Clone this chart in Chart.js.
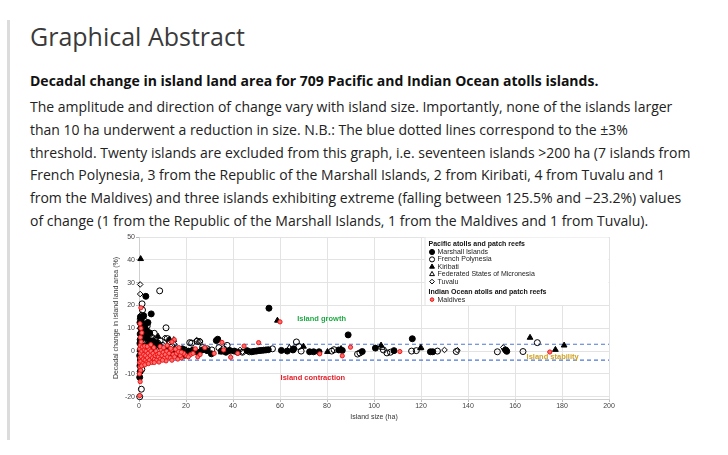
<!DOCTYPE html>
<html>
<head>
<meta charset="utf-8">
<script src="https://cdn.jsdelivr.net/npm/chart.js@4.4.1/dist/chart.umd.min.js"></script>
<style>
  body { margin: 0; background: #fff; font-family: "Open Sans", sans-serif; width: 728px; height: 455px; overflow: hidden; position: relative; }
  #bar { position: absolute; left: 7px; top: 20px; width: 3px; height: 420px; background: #dcdcdc; }
  h2 { position: absolute; left: 30px; top: 19px; margin: 0; font-size: 25px; line-height: 34px; font-weight: 400; color: #3a3a3a; white-space: nowrap; }
  #caption { position: absolute; left: 30px; top: 69px; margin: 0; font-size: 14px; line-height: 23px; font-weight: 700; color: #111; white-space: nowrap; }
  #para { position: absolute; left: 30px; top: 96px; margin: 0; font-size: 14px; line-height: 22.8px; color: #222; white-space: nowrap; }
  #wrap { position: absolute; left: 100px; top: 230px; width: 520px; height: 195px; }
</style>
</head>
<body>
<div id="bar"></div>
<h2>Graphical Abstract</h2>
<p id="caption">Decadal change in island land area for 709 Pacific and Indian Ocean atolls islands.</p>
<p id="para">The amplitude and direction of change vary with island size. Importantly, none of the islands larger<br>than 10 ha underwent a reduction in size. N.B.: The blue dotted lines correspond to the ±3%<br>threshold. Twenty islands are excluded from this graph, i.e. seventeen islands &gt;200 ha (7 islands from<br>French Polynesia, 3 from the Republic of the Marshall Islands, 2 from Kiribati, 4 from Tuvalu and 1<br>from the Maldives) and three islands exhibiting extreme (falling between 125.5% and −23.2%) values<br>of change (1 from the Republic of the Marshall Islands, 1 from the Maldives and 1 from Tuvalu).</p>
<div id="wrap"><canvas id="my-chart" width="520" height="195"></canvas></div>
<script>
'use strict';

// DATA  [island size (ha), decadal change (%)]
let marshall = [
  [0.3,-11.5],[0.5,-9],[0.4,-6.5],[0.6,-4],[0.3,-2],[0.8,-1],[0.5,0.5],[1.0,2],[0.4,3.5],[0.7,5],
  [1.2,6],[0.5,7.5],[1.5,8.5],[0.8,10],[1.3,11],[0.4,12.5],[1.8,12],[1.0,14],[2.0,15.5],[0.6,15],
  [2.9,24],[5.2,16.3],[3.8,12.5],[2.5,10.5],[3.2,9],[4.5,8],[2.2,7],[3.5,5.5],[5.0,4.5],[6.5,4],
  [4.2,3],[7.5,3.5],[8.5,2.5],[9.5,1.5],[6,1],[11,0.5],[12.5,1],[14,0.3],[15.5,-0.5],[17,0.5],
  [19.5,-1.8],[21,0],[23,0.5],[25,-0.5],[27,0.5],[29,0.2],[30.8,-1.2],[32.9,4.6],[33.5,5.2],[35,0],
  [37,-0.5],[38.5,0.3],[40.6,0],[42,-0.5],[46,0.2],[48,-0.3],[49,-0.1],[50,0],[51,0.2],[52,0.3],
  [53,0.4],[54,0.5],[55,0.6],[55.3,18.8],[60.6,0.3],[63.1,0],[65.5,0.5],[65.8,1],[72.6,-0.3],[74.3,-0.3],
  [76.6,-0.3],[85,0.5],[86.5,0.3],[89,7.1],[95,-0.2],[100.6,1.3],[108.5,0.2],[116.3,5.4],[124,-0.3],[125,-0.3],
  [156,0.5],[156.5,-0.1],[7,-1],[10,-2],[13,-1.5],[16.5,-2],[18.5,1]
];
let frenchPolynesia = [
  [1.3,20.7],[8.8,26.4],[11.5,10.2],[1,-16.7],[0.3,-20],[1.5,18],[2.5,13],[3.5,11],[4.5,7.5],[5.5,6],
  [6.5,7.8],[7,5],[8,3.5],[9,4.5],[10,2.5],[12,5.5],[13,4],[14,2],[16,1],[18,0.5],
  [21.6,3.7],[22.4,3.5],[24.8,4.3],[25.8,4.1],[27,1.5],[29,1],[31,0.5],[34,1.5],[36,1],[37.5,2.5],
  [39,0],[44,-0.5],[47,-0.3],[56.8,1],[67,4],[68,2],[69,0],[82,0],[83,0.6],[93,-1.3],
  [94,-0.8],[104,0.5],[105.5,-0.8],[107,-0.5],[116,0],[118,0.2],[127,0],[135,-0.2],[152.5,-0.3],[163.4,-0.2],
  [169.5,3.7],[0.5,5],[1.5,3],[2,1],[0.8,-3],[1.2,-8],[2.5,-2]
];
let kiribati = [
  [0.7,40.4],[58.9,13.4],[103,2.5],[119.8,1.3],[166.4,5.9],[177.2,0.6],[180.9,2.5],[70,2],[80.2,-0.3],[86,1],
  [1,8],[3,6],[6,4.5],[8.1,6.4],[13,5.2],[0.5,-5],[2.2,2],[14.8,4.9]
];
let micronesia = [
  [2,4],[5,2],[10,1],[20,0.5],[28,1],[35,-0.5],[64,1.5],[103.5,1.5],[120,1.5],[0.8,1]
];
let tuvalu = [
  [0.5,29.2],[0.5,25],[1,16],[0.3,14],[1.5,12],[0.5,10],[2,9],[1,6],[0.3,3],[1.8,1],
  [0.6,-2],[0.4,-6],[3,7],[4,5],[5,3],[7,2],[11,5.8],[12.5,4.5],[15,3],[24.5,4.8],
  [26,4.4],[43,0.5],[44,-0.3],[130,0.5],[135.5,0.4],[155,1.6],[155.5,0.6]
];
let maldives = [
  [0.8,19],[0.5,-13.4],[0.3,-19.5],[60,12.8],[35.3,3.8],[44.7,2.2],[50.9,3.7],[39,-2.7],[76.9,-1.2],[86.5,-2.1],
  [90,1.7],[111,-0.2],[174.8,-0.4],[15,5],[14,4],[20,-2],[22,-1.5],[18,-3],[25,-2.5],[28,1.5],
  [32,-1],[36,0.5],[42,-1],
  [0.2,-5],[0.4,-3],[0.6,-1],[0.3,1],[0.5,2.5],[0.8,-4.5],[1,-2.5],[1.2,0],[1.4,1.8],[0.9,4],
  [1.6,-5.5],[1.8,-3.5],[2,-1.5],[2.2,0.5],[2.4,2.2],[2.6,-4],[2.8,-2],[3,0],[0.4,-7],[0.7,-8.5],
  [1.1,-6.5],[0.2,-10],[0.6,6],[1.2,8],[0.8,10],[0.4,12],
  [3.3,-5],[3.6,-3],[3.9,-1],[4.2,1],[4.5,-4],[4.8,-2],[5.1,0],[5.4,-5],[5.7,-3],[6,-1],
  [6.3,1.5],[6.6,-3.5],[6.9,-2],[7.2,0],[7.5,-4],[7.8,-1.5],[3.5,2],[5,2.8],[2.5,-6],[4,-5.5],
  [8.2,-2.5],[8.6,-1],[9,-3.5],[9.4,0.5],[9.8,-2],[10.3,-0.5],[10.8,-3],[11.2,-1.5],[11.8,0],[12.2,-2.5],
  [12.8,-1],[13.3,-3],[13.8,0.5],[14.5,-1.5],[15.2,-2.5],[16,-1],[16.8,-0.2],[17.5,-2],[19,-1],[21,-2.5],
  [23,-1],[24,1],[26,-1.5],
  [9,2],[10.5,1.5],[12,2.5],[13.5,1.2],[15.5,0.8],[17,1.5],[18,-0.5],[16.5,-3.5],[14,-4],[11.5,-4.3],
  [8.5,-4.8],[6.5,-5],[10,-4]
];

// THRESHOLD LINES (%)
let thresholds = [3, -4];

// AXES
let xTicks = [0, 20, 40, 60, 80, 100, 120, 140, 160, 180, 200];
let yTicks = [-20, -10, 0, 10, 20, 30, 40, 50];

// ANNOTATIONS [text, x, y, colour]
let notes = [
  ['Island growth', 77.7, 14.1, '#1faa45'],
  ['Island contraction', 74, -11.7, '#e5202a'],
  ['Island stability', 176, -2.7, '#d2a11e']
];

// LEGEND GROUPS
let legendGroups = [
  { title: 'Pacific atolls and patch reefs', items: ['Marshall Islands', 'French Polynesia', 'Kiribati', 'Federated States of Micronesia', 'Tuvalu'] },
  { title: 'Indian Ocean atolls and patch reefs', items: ['Maldives'] }
];

let FONT = '"Liberation Sans", Arial, sans-serif';
let GRID = '#e3e3e3';

function toPoints(arr) {
  return arr.map(p => ({ x: p[0], y: p[1] }));
}

let styles = {
  'Marshall Islands': { pointStyle: 'circle', radius: 3, bg: '#000', border: '#000', bw: 1 },
  'French Polynesia': { pointStyle: 'circle', radius: 3, bg: 'rgba(0,0,0,0)', border: '#000', bw: 1 },
  'Kiribati': { pointStyle: 'triangle', radius: 3.3, bg: '#000', border: '#000', bw: 1 },
  'Federated States of Micronesia': { pointStyle: 'triangle', radius: 3.3, bg: 'rgba(0,0,0,0)', border: '#000', bw: 1 },
  'Tuvalu': { pointStyle: 'rectRot', radius: 2.8, bg: 'rgba(0,0,0,0)', border: '#000', bw: 1 },
  'Maldives': { pointStyle: 'circle', radius: 2.1, bg: '#ff7070', border: '#ee1515', bw: 1 }
};

function pointSet(label, arr, order) {
  let s = styles[label];
  return {
    label: label,
    data: toPoints(arr),
    pointStyle: s.pointStyle,
    pointRadius: s.radius,
    backgroundColor: s.bg,
    borderColor: s.border,
    borderWidth: s.bw,
    clip: 6,
    order: order
  };
}

function lineSet(level) {
  return {
    label: 'threshold ' + level,
    data: [{ x: 0, y: level }, { x: 200, y: level }],
    showLine: true,
    pointRadius: 0,
    borderColor: '#4c78d6',
    borderWidth: 1.2,
    borderDash: [4, 3],
    order: 10
  };
}

// PLUGIN: annotations + grouped legend
let extras = {
  id: 'extras',
  afterDatasetsDraw(chart) {
    let c = chart.ctx;
    let xs = chart.scales.x;
    let ys = chart.scales.y;
    let area = chart.chartArea;

    c.save();
    c.font = 'bold 7.5px ' + FONT;
    c.textAlign = 'center';
    c.textBaseline = 'middle';
    notes.forEach(n => {
      c.fillStyle = n[3];
      c.fillText(n[0], xs.getPixelForValue(n[1]), ys.getPixelForValue(n[2]));
    });

    // legend box
    let left = xs.getPixelForValue(121.5);
    let top = area.top;
    let bottom = ys.getPixelForValue(20);
    c.fillStyle = '#fff';
    c.fillRect(left, top + 0.5, area.right - left - 0.5, bottom - top - 1);
    c.strokeStyle = GRID;
    c.lineWidth = 1;
    c.beginPath();
    c.moveTo(left + 0.5, top);
    c.lineTo(left + 0.5, bottom);
    c.stroke();

    c.textAlign = 'left';
    let y = top + 7;
    legendGroups.forEach(g => {
      c.fillStyle = '#111';
      c.font = 'bold 7px ' + FONT;
      c.fillText(g.title, left + 4, y);
      y += 8;
      g.items.forEach(name => {
        let s = styles[name];
        c.fillStyle = s.bg;
        c.strokeStyle = s.border;
        c.lineWidth = s.bw;
        Chart.helpers.drawPoint(c, {
          pointStyle: s.pointStyle,
          radius: s.radius * 0.85,
          borderWidth: s.bw
        }, left + 7.5, y);
        c.fillStyle = '#222';
        c.font = '7px ' + FONT;
        c.fillText(name, left + 13, y);
        y += 7.4;
      });
      y += 2.6;
    });
    c.restore();
  }
};

let ctx = document.getElementById('my-chart');

new Chart(ctx, {
  type: 'scatter',
  data: {
    datasets: [
      lineSet(thresholds[0]),
      lineSet(thresholds[1]),
      pointSet('Marshall Islands', marshall, 3),
      pointSet('French Polynesia', frenchPolynesia, 4),
      pointSet('Kiribati', kiribati, 2),
      pointSet('Federated States of Micronesia', micronesia, 5),
      pointSet('Tuvalu', tuvalu, 6),
      pointSet('Maldives', maldives, 1)
    ]
  },
  options: {
    responsive: false,
    animation: false,
    events: [],
    layout: { padding: { top: 7, right: 11, left: 0, bottom: 0 } },
    plugins: { legend: { display: false }, tooltip: { enabled: false } },
    scales: {
      x: {
        type: 'linear',
        min: 0,
        max: 200,
        afterFit(scale) { scale.height = 26; },
        afterBuildTicks(scale) { scale.ticks = xTicks.map(v => ({ value: v })); },
        grid: { color: GRID, tickLength: 3, tickColor: '#bbb' },
        border: { color: '#cfcfcf' },
        ticks: { color: '#444', font: { family: FONT, size: 7 }, padding: 0, maxRotation: 0 },
        title: { display: true, text: 'Island size (ha)', color: '#333', font: { family: FONT, size: 7 }, padding: { top: 0, bottom: 3.8 } }
      },
      y: {
        type: 'linear',
        min: -21,
        max: 50,
        afterFit(scale) { scale.width = 39; },
        afterBuildTicks(scale) { scale.ticks = yTicks.map(v => ({ value: v })); },
        grid: { color: GRID, tickLength: 3, tickColor: '#bbb' },
        border: { color: '#cfcfcf' },
        ticks: { color: '#444', font: { family: FONT, size: 7 }, padding: 1 },
        title: { display: true, text: 'Decadal change in island land area (%)', color: '#333', font: { family: FONT, size: 7 }, padding: { top: 11.8, bottom: 0 } }
      }
    }
  },
  plugins: [extras]
});
</script>
</body>
</html>
